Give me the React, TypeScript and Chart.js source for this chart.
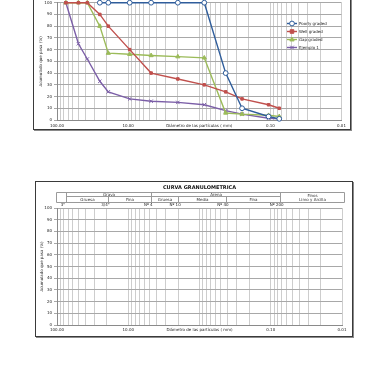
import React, { useEffect, useRef } from "react";
import { Chart, registerables } from "chart.js";

Chart.register(...registerables);

const FONT = "'DejaVu Sans', Verdana, sans-serif";

// ---------- data ----------
const SIEVE_MM = [75, 50, 37.5, 25, 19, 9.5, 4.75, 2.0, 0.85, 0.425, 0.25, 0.106, 0.075];
const POORLY_GRADED = [null, null, null, 100, 100, 100, 100, 100, 100, 40, 10, 3, 1];
const WELL_GRADED = [100, 100, 100, 90, 80, 60, 40, 35, 30, 24, 18, 13, 10];
const GAP_GRADED = [100, 100, 100, 80, 57, 56, 55, 54, 53, 6, 5, 4, 3];
const EJEMPLO_1 = [100, 65, 52, 33, 24, 18, 16, 15, 13, 8, 5, 1.5, 1];

const SERIES_NAMES = ["Poorly graded", "Well graded", "Gap graded", "Ejemplo 1"];
const SERIES_COLORS = ["#2F5D9B", "#C0504D", "#9BBB59", "#7B5EA7"];
const SERIES_MARKERS = ["circle", "rect", "triangle", "crossRot"];

const X_TICK_VALUES = [100, 10, 0.1, 0.01];
const X_TICK_LABELS = ["100.00", "10.00", "0.10", "0.01"];
const GRID_DECADES = [0.01, 0.1, 1, 10];
const GRID_MULTIPLES = [1, 2, 3, 4, 5, 6, 7, 8, 9];

const SIEVE_LABELS = ['3"', '3/4"', "Nº 4", "Nº 10", "Nº 40", "Nº 200"];
const SIEVE_LABEL_MM = [75, 19, 4.75, 2.0, 0.425, 0.075];

const GROUP_NAMES = ["Grava", "Arena"];
const GROUP_FROM_MM = [75, 4.75];
const GROUP_TO_MM = [4.75, 0.075];
const SUBGROUP_NAMES = ["Gruesa", "Fina", "Gruesa", "Media", "Fina"];
const SUBGROUP_FROM_MM = [75, 19, 4.75, 2.0, 0.425];
const SUBGROUP_TO_MM = [19, 4.75, 2.0, 0.425, 0.075];
const FINES_LINES = ["Finos", "Limo y Arcilla"];

const CHART_TITLE = "CURVA GRANULOMETRICA";
const X_TITLE = "Diámetro de las partículas ( mm)";
const Y_TITLE = "Acumulado que pasa (%)";

// ---------- helpers ----------
function gridValues() {
  const out: number[] = [];
  GRID_DECADES.forEach((d) => GRID_MULTIPLES.forEach((m) => out.push(+(d * m).toPrecision(6))));
  out.push(100);
  return out;
}

function xLabel(v: number) {
  const i = X_TICK_VALUES.findIndex((t) => Math.abs(Math.log10(t) - Math.log10(v)) < 1e-6);
  return i >= 0 ? X_TICK_LABELS[i] : "";
}

function drawMarker(ctx: CanvasRenderingContext2D, style: string, x: number, y: number, r: number, fill: string, stroke: string, lw: number) {
  ctx.save();
  ctx.lineWidth = lw;
  ctx.strokeStyle = stroke;
  ctx.fillStyle = fill;
  ctx.beginPath();
  if (style === "circle") {
    ctx.arc(x, y, r, 0, Math.PI * 2);
    ctx.fill();
    ctx.stroke();
  } else if (style === "rect") {
    const s = r;
    ctx.rect(x - s, y - s, 2 * s, 2 * s);
    ctx.fill();
    ctx.stroke();
  } else if (style === "triangle") {
    ctx.moveTo(x, y - r);
    ctx.lineTo(x + r * 0.9, y + r * 0.6);
    ctx.lineTo(x - r * 0.9, y + r * 0.6);
    ctx.closePath();
    ctx.fill();
    ctx.stroke();
  } else {
    const s = r * 0.75;
    ctx.moveTo(x - s, y - s);
    ctx.lineTo(x + s, y + s);
    ctx.moveTo(x + s, y - s);
    ctx.lineTo(x - s, y + s);
    ctx.stroke();
  }
  ctx.restore();
}

function scalesConfig(yWidth: number, xHeight: number, yTitlePad: number, xTickPad: number, xTitlePadBottom: number) {
  return {
    x: {
      type: "logarithmic",
      reverse: true,
      min: 0.01,
      max: 100,
      afterBuildTicks: (scale: any) => {
        scale.ticks = gridValues().map((v) => ({ value: v }));
      },
      afterFit: (scale: any) => {
        scale.height = xHeight;
      },
      grid: { color: "#cdcdcd", lineWidth: 1, drawTicks: false },
      border: { color: "#8a8a8a", width: 1 },
      ticks: {
        autoSkip: false,
        maxRotation: 0,
        minRotation: 0,
        padding: xTickPad,
        color: "#222",
        font: { family: FONT, size: 4 },
        callback: (v: any) => xLabel(Number(v)),
      },
      title: {
        display: true,
        text: X_TITLE,
        color: "#222",
        font: { family: FONT, size: 4 },
        padding: { top: 0, bottom: xTitlePadBottom },
      },
    },
    y: {
      min: 0,
      max: 100,
      afterFit: (scale: any) => {
        scale.width = yWidth;
      },
      grid: { color: "#a8a8a8", lineWidth: 1, tickLength: 3 },
      border: { color: "#8a8a8a", width: 1 },
      ticks: {
        stepSize: 10,
        padding: 2,
        color: "#222",
        font: { family: FONT, size: 4 },
      },
      title: {
        display: true,
        text: Y_TITLE,
        color: "#222",
        font: { family: FONT, size: 4 },
        padding: { top: yTitlePad, bottom: 0 },
      },
    },
  };
}

const sieveLabelsPlugin = {
  id: "sieveLabels",
  afterDraw(chart: any) {
    const { ctx, chartArea, scales } = chart;
    const x = scales.x;
    ctx.save();
    ctx.font = `4px ${FONT}`;
    ctx.fillStyle = "#222";
    ctx.textAlign = "center";
    ctx.textBaseline = "middle";
    SIEVE_LABELS.forEach((lab, i) => {
      ctx.fillText(lab, x.getPixelForValue(SIEVE_LABEL_MM[i]) - 3, chartArea.top - 3.5);
    });
    ctx.restore();
  },
};

const headerTablePlugin = {
  id: "headerTable",
  afterDraw(chart: any) {
    const { ctx, chartArea, scales } = chart;
    const x = scales.x;
    const px = (v: number) => Math.round(x.getPixelForValue(v)) + 0.5;
    const t = chartArea.top;
    const yTop = Math.round(t - 16.5) + 0.5;
    const ySep = Math.round(t - 12) + 0.5;
    const yBot = Math.round(t - 6.5) + 0.5;
    const left = Math.round(chartArea.left - 1) + 0.5;
    const right = Math.round(chartArea.right + 1.5) + 0.5;
    ctx.save();
    ctx.strokeStyle = "#9a9a9a";
    ctx.lineWidth = 1;
    ctx.beginPath();
    ctx.rect(left, yTop, right - left, yBot - yTop);
    ctx.moveTo(px(GROUP_FROM_MM[0]), ySep);
    ctx.lineTo(px(GROUP_TO_MM[GROUP_TO_MM.length - 1]), ySep);
    [GROUP_FROM_MM[0], ...GROUP_TO_MM].forEach((v) => {
      ctx.moveTo(px(v), yTop);
      ctx.lineTo(px(v), yBot);
    });
    SUBGROUP_TO_MM.slice(0, -1).forEach((v) => {
      if (GROUP_TO_MM.indexOf(v) >= 0) return;
      ctx.moveTo(px(v), ySep);
      ctx.lineTo(px(v), yBot);
    });
    ctx.stroke();

    ctx.font = `4px ${FONT}`;
    ctx.fillStyle = "#333";
    ctx.textAlign = "center";
    ctx.textBaseline = "middle";
    GROUP_NAMES.forEach((g, i) => {
      ctx.fillText(g, (px(GROUP_FROM_MM[i]) + px(GROUP_TO_MM[i])) / 2, (yTop + ySep) / 2);
    });
    SUBGROUP_NAMES.forEach((g, i) => {
      ctx.fillText(g, (px(SUBGROUP_FROM_MM[i]) + px(SUBGROUP_TO_MM[i])) / 2, (ySep + yBot) / 2);
    });
    const fx = (px(GROUP_TO_MM[GROUP_TO_MM.length - 1]) + right) / 2;
    ctx.fillText(FINES_LINES[0], fx, yTop + 3);
    ctx.fillText(FINES_LINES[1], fx, yTop + 7.5);
    ctx.restore();
  },
};

const insideLegendPlugin = {
  id: "insideLegend",
  afterDraw(chart: any) {
    const { ctx, chartArea } = chart;
    const x0 = chartArea.right - 54.5;
    const y0 = chartArea.top + 20;
    ctx.save();
    ctx.font = `4px ${FONT}`;
    ctx.textBaseline = "middle";
    ctx.textAlign = "left";
    chart.data.datasets.forEach((ds: any, i: number) => {
      const y = Math.round(y0 + i * 8) + 0.5;
      ctx.strokeStyle = ds.borderColor;
      ctx.lineWidth = ds.borderWidth;
      ctx.beginPath();
      ctx.moveTo(x0, y);
      ctx.lineTo(x0 + 10, y);
      ctx.stroke();
      drawMarker(ctx, ds.pointStyle, x0 + 5, y, ds.pointRadius, ds.pointBackgroundColor, ds.pointBorderColor, ds.pointBorderWidth);
      ctx.fillStyle = "#262626";
      ctx.fillText(ds.label, x0 + 12, y);
    });
    ctx.restore();
  },
};

function topConfig(): any {
  const values = [POORLY_GRADED, WELL_GRADED, GAP_GRADED, EJEMPLO_1];
  const datasets = SERIES_NAMES.map((name, i) => ({
    label: name,
    data: SIEVE_MM.map((d, k) => ({ x: d, y: values[i][k] })).filter((p) => p.y !== null),
    borderColor: SERIES_COLORS[i],
    backgroundColor: SERIES_COLORS[i],
    pointBackgroundColor: i === 0 ? "#ffffff" : SERIES_COLORS[i],
    pointBorderColor: SERIES_COLORS[i],
    pointStyle: SERIES_MARKERS[i],
    pointRadius: i === 1 ? 1.8 : 2.4,
    pointBorderWidth: 1,
    borderWidth: 1.4,
    tension: 0,
    fill: false,
    clip: false,
  }));
  return {
    type: "line",
    data: { datasets },
    options: {
      responsive: false,
      animation: false,
      events: [],
      layout: { padding: { left: 0, right: 9.5, top: 14.7, bottom: 0.5 } },
      scales: scalesConfig(24, 9.5, 6, 3.3, 1.4),
      plugins: {
        legend: { display: false },
        tooltip: { enabled: false },
        title: { display: false },
      },
    },
    plugins: [sieveLabelsPlugin, insideLegendPlugin],
  };
}

function bottomConfig(): any {
  return {
    type: "line",
    data: { datasets: [] },
    options: {
      responsive: false,
      animation: false,
      events: [],
      layout: { padding: { left: 0, right: 11, top: 0, bottom: 4.6 } },
      scales: scalesConfig(22, 7.4, 4.3, 2.6, 0),
      plugins: {
        legend: { display: false },
        tooltip: { enabled: false },
        title: {
          display: true,
          text: CHART_TITLE,
          fullSize: false,
          color: "#111",
          font: { family: FONT, size: 5, weight: "bold", lineHeight: 1.2 },
          padding: { top: 3.3, bottom: 17.7 },
        },
      },
    },
    plugins: [sieveLabelsPlugin, headerTablePlugin],
  };
}

export default function App() {
  const topRef = useRef<HTMLCanvasElement>(null);
  const botRef = useRef<HTMLCanvasElement>(null);

  useEffect(() => {
    const c1 = new Chart(topRef.current as HTMLCanvasElement, topConfig());
    const c2 = new Chart(botRef.current as HTMLCanvasElement, bottomConfig());
    return () => {
      c1.destroy();
      c2.destroy();
    };
  }, []);

  const frame = {
    position: "absolute" as const,
    boxSizing: "border-box" as const,
    border: "1px solid #3a3a3a",
    boxShadow: "1px 1px 0 #8a8a8a",
    pointerEvents: "none" as const,
  };

  return (
    <div style={{ position: "fixed", left: 0, top: 0, width: 391, height: 391, background: "#fff", overflow: "hidden" }}>
      <canvas
        ref={topRef}
        width={318}
        height={142}
        style={{ position: "absolute", left: 33, top: -12, width: 318, height: 142 }}
      />
      <div style={{ ...frame, left: 33, top: -20, width: 318, height: 150 }} />
      <canvas
        ref={botRef}
        width={318}
        height={156}
        style={{ position: "absolute", left: 35, top: 181, width: 318, height: 156 }}
      />
      <div style={{ ...frame, left: 35, top: 181, width: 318, height: 156 }} />
    </div>
  );
}
